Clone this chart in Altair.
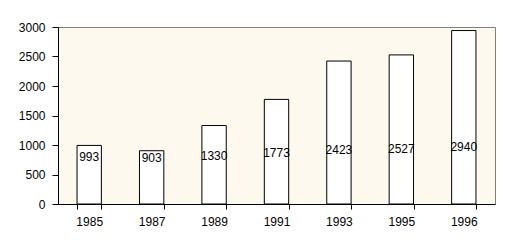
import altair as alt
import pandas as pd

years = ["1985", "1987", "1989", "1991", "1993", "1995", "1996"]
values = [993, 903, 1330, 1773, 2423, 2527, 2940]
y_ticks = [0, 500, 1000, 1500, 2000, 2500, 3000]

df = pd.DataFrame({"year": years, "value": values})

FONT = "Liberation Sans"

base = alt.Chart(df)

x_axis = alt.Axis(labelAngle=0, tickBand="extent", domainColor="black",
                  tickColor="black", tickSize=5, labelPadding=7,
                  labelFont=FONT, labelFontSize=12, labelColor="black",
                  grid=False)
y_axis = alt.Axis(values=y_ticks, format="d", labelOverlap=False,
                  domainColor="black", tickColor="black", tickSize=6,
                  labelPadding=7, labelFont=FONT, labelFontSize=12,
                  labelColor="black", grid=False)
x_scale = alt.Scale(paddingInner=0.61, paddingOuter=0.305)
y_scale = alt.Scale(domain=[0, 3000], nice=False)

bars = base.mark_bar(fill="white", stroke="black", strokeWidth=1).encode(
    x=alt.X("year:N", sort=years, title=None, scale=x_scale, axis=x_axis),
    y=alt.Y("value:Q", scale=y_scale, title=None, axis=y_axis),
)

labels = base.transform_calculate(
    ly="700 + 0.09 * datum.value"
).mark_text(font=FONT, fontSize=12, color="black", align="center", baseline="middle").encode(
    x=alt.X("year:N", sort=years, title=None, scale=x_scale, axis=x_axis),
    y=alt.Y("ly:Q", scale=alt.Scale(domain=[0, 3000], nice=False), title=None, axis=None),
    text=alt.Text("value:Q", format="d"),
)

chart = alt.layer(bars, labels).resolve_scale(y="independent").resolve_axis(y="independent").properties(
    width=437, height=177,
    autosize=alt.AutoSizeParams(type="none"),
    padding={"left": 58, "top": 27, "right": 14, "bottom": 46},
    background="white",
).configure_view(
    fill="#FDF9EE", stroke="#808080", strokeWidth=1
)

chart.save("out.html", embed_options={"renderer": "svg", "actions": False})
